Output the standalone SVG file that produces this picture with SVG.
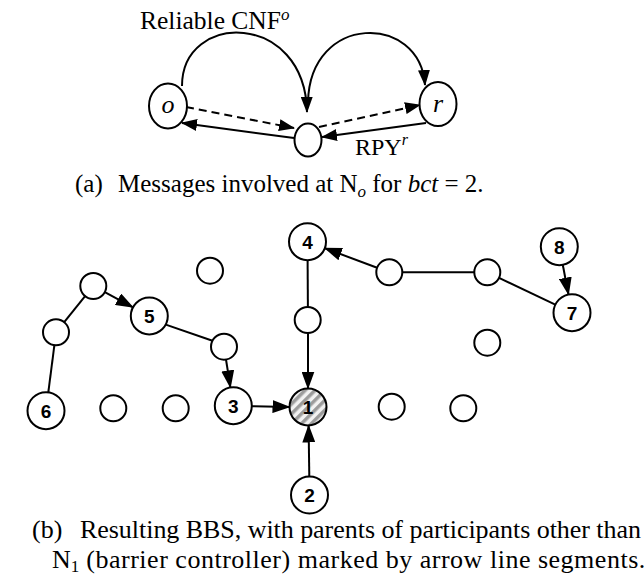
<svg xmlns="http://www.w3.org/2000/svg" width="644" height="575" viewBox="0 0 644 575">
  <defs>
    <marker id="headA" markerUnits="userSpaceOnUse" markerWidth="16" markerHeight="12" refX="15" refY="6" orient="auto">
      <path d="M0,0 L16,6 L0,12 Z" fill="#000"/>
    </marker>
    <marker id="headB" markerUnits="userSpaceOnUse" markerWidth="18" markerHeight="13" refX="17" refY="6.5" orient="auto">
      <path d="M0,0 L18,6.5 L0,13 Z" fill="#000"/>
    </marker>
    <pattern id="hatch" patternUnits="userSpaceOnUse" width="7" height="7" patternTransform="rotate(45)">
      <rect width="7" height="7" fill="#f2f2f2"/>
      <rect width="3.5" height="7" fill="#9c9c9c"/>
    </pattern>
  </defs>
  <style>
    .serif { font-family: "Liberation Serif", "Times New Roman", serif; fill: #000; }
    .it { font-style: italic; }
    .ell { fill: #fff; stroke: #000; stroke-width: 2; }
    .nd { fill: #fff; stroke: #000; stroke-width: 2; }
    .num { font-family: "Liberation Sans", Arial, sans-serif; font-weight: bold; font-size: 19px; text-anchor: middle; fill: #000; }
    .ln { fill: none; stroke: #000; stroke-width: 2; }
    .dash { stroke-dasharray: 8 5; }
    .arrA { marker-end: url(#headA); }
    .arrB { marker-end: url(#headB); }
  </style>

  <!-- (a) message exchange at N_o -->
  <g id="connectors-a">
    <path class="ln arrA" d="M182,86 C182,11 305,11 307,112"/>
    <path class="ln arrA" d="M308,102 C310,13 420,13 425,85"/>
    <line class="ln dash arrA" x1="186" y1="107" x2="294" y2="128"/>
    <line class="ln dash arrA" x1="319" y1="127" x2="420" y2="105"/>
    <line class="ln arrA" x1="294" y1="138" x2="182" y2="123"/>
    <line class="ln arrA" x1="426" y1="123" x2="322" y2="137"/>
  </g>
  <g id="node-o">
    <ellipse class="ell" cx="168" cy="106" rx="19" ry="22.5"/>
    <text class="serif it" x="168" y="113" font-size="26" text-anchor="middle">o</text>
  </g>
  <g id="node-mid">
    <ellipse class="ell" cx="308" cy="140" rx="13.5" ry="16.5"/>
  </g>
  <g id="node-r">
    <ellipse class="ell" cx="438" cy="104" rx="18.5" ry="22"/>
    <text class="serif it" x="438" y="112" font-size="26" text-anchor="middle">r</text>
  </g>
  <text class="serif" x="140" y="29" font-size="25.5">Reliable CNF<tspan class="it" font-size="17" dy="-9">o</tspan></text>
  <text class="serif" x="355" y="155" font-size="24">RPY<tspan class="it" font-size="16" dy="-10">r</tspan></text>
  <text class="serif" x="75" y="192" font-size="25">(a)</text>
  <text class="serif" x="118" y="192" font-size="25">Messages involved at N<tspan class="it" font-size="17" dy="5">o</tspan><tspan dy="-5"> for </tspan><tspan class="it">bct</tspan> = 2.</text>

  <!-- (b) resulting BBS -->
  <g id="connectors-b">
    <line class="ln arrB" x1="562.8" y1="265" x2="568.5" y2="294.5"/>
    <line class="ln" x1="555.3" y1="304.7" x2="499" y2="277.9"/>
    <line class="ln" x1="474.3" y1="272.3" x2="402.3" y2="272.3"/>
    <line class="ln arrB" x1="377.1" y1="267.7" x2="324.8" y2="248.2"/>
    <line class="ln" x1="307.6" y1="260.2" x2="307.9" y2="307"/>
    <line class="ln arrB" x1="308" y1="333" x2="308" y2="388.5"/>
    <line class="ln" x1="48.3" y1="392.3" x2="54.4" y2="345.2"/>
    <line class="ln" x1="64.2" y1="322.2" x2="85.1" y2="296.1"/>
    <line class="ln arrB" x1="104.8" y1="292.1" x2="133" y2="307.3"/>
    <line class="ln" x1="165.8" y1="324.6" x2="212.5" y2="340.7"/>
    <line class="ln arrB" x1="226" y1="359.5" x2="230.4" y2="387.4"/>
    <line class="ln arrB" x1="251.8" y1="406.2" x2="289.5" y2="406.9"/>
    <line class="ln arrB" x1="309.3" y1="476.5" x2="308.6" y2="425.5"/>
  </g>

  <g id="n1"><circle class="nd" cx="308" cy="407" r="18.5" style="fill:url(#hatch)"/><text class="num" x="308" y="414">1</text></g>
  <g id="n2"><circle class="nd" cx="309.5" cy="495" r="18.5"/><text class="num" x="309.5" y="502">2</text></g>
  <g id="n3"><circle class="nd" cx="233.3" cy="405.7" r="18.5"/><text class="num" x="233.3" y="412.7">3</text></g>
  <g id="n4"><circle class="nd" cx="307.5" cy="241.7" r="18.5"/><text class="num" x="307.5" y="248.7">4</text></g>
  <g id="n5"><circle class="nd" cx="149.3" cy="316" r="18.5"/><text class="num" x="149.3" y="323">5</text></g>
  <g id="n6"><circle class="nd" cx="46" cy="410.7" r="18.5"/><text class="num" x="46" y="417.7">6</text></g>
  <g id="n7"><circle class="nd" cx="572" cy="312.7" r="18.5"/><text class="num" x="572" y="319.7">7</text></g>
  <g id="n8"><circle class="nd" cx="559.3" cy="246.7" r="18.5"/><text class="num" x="559.3" y="253.7">8</text></g>

  <g id="p-a"><circle class="nd" cx="210" cy="270.7" r="13"/></g>
  <g id="p-b"><circle class="nd" cx="93.3" cy="286" r="13"/></g>
  <g id="p-c"><circle class="nd" cx="56" cy="332.3" r="13"/></g>
  <g id="p-d"><circle class="nd" cx="224" cy="346.7" r="13"/></g>
  <g id="p-e"><circle class="nd" cx="307.7" cy="320" r="13"/></g>
  <g id="p-f"><circle class="nd" cx="113.3" cy="408.3" r="13"/></g>
  <g id="p-g"><circle class="nd" cx="175.7" cy="408.3" r="13"/></g>
  <g id="p-h"><circle class="nd" cx="389.3" cy="272.3" r="13"/></g>
  <g id="p-i"><circle class="nd" cx="487.3" cy="272.3" r="13"/></g>
  <g id="p-j"><circle class="nd" cx="487.3" cy="342.7" r="13"/></g>
  <g id="p-k"><circle class="nd" cx="391.7" cy="406.7" r="13"/></g>
  <g id="p-l"><circle class="nd" cx="463.3" cy="408.3" r="13"/></g>

  <text class="serif" x="32" y="538" font-size="26">(b)</text>
  <text class="serif" x="80" y="538" font-size="26" textLength="561" lengthAdjust="spacing">Resulting BBS, with parents of participants other than</text>
  <text class="serif" x="52" y="568" font-size="26">N<tspan font-size="17" dy="4">1</tspan><tspan dy="-4" textLength="566" lengthAdjust="spacing"> (barrier controller) marked by arrow line segments.</tspan></text>
</svg>
